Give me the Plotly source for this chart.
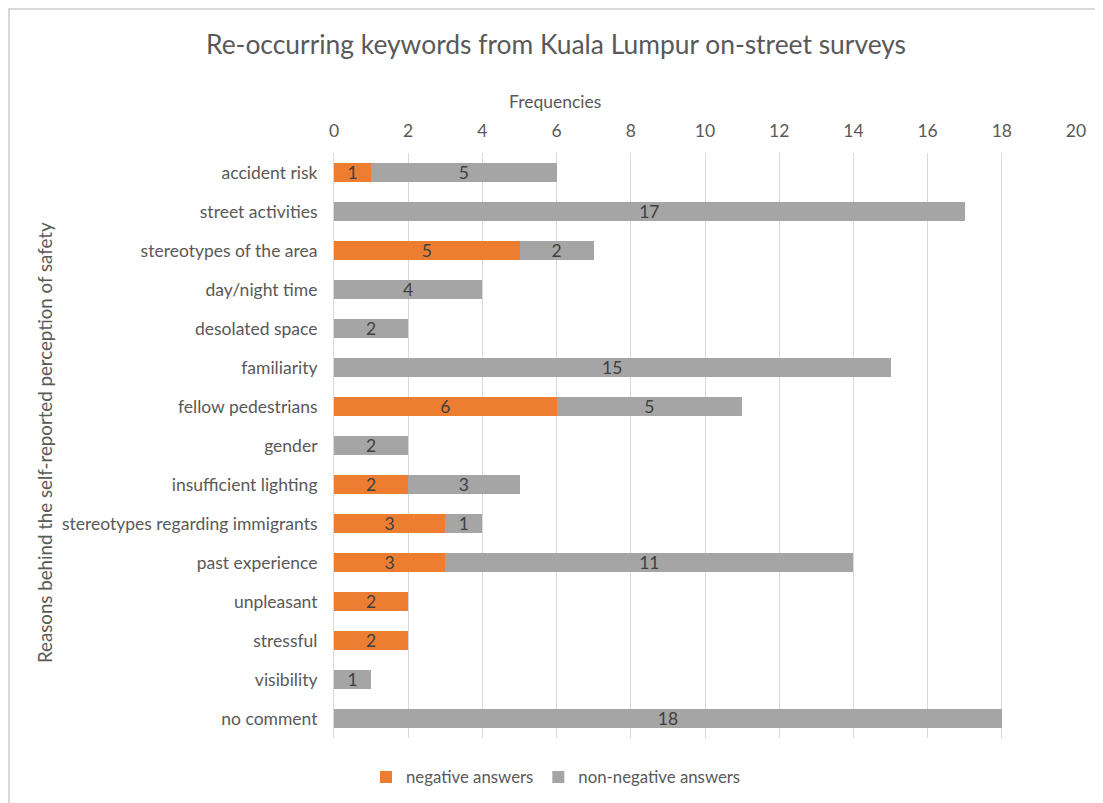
import plotly.graph_objects as go

categories = ["accident risk", "street activities", "stereotypes of the area", "day/night time",
              "desolated space", "familiarity", "fellow pedestrians", "gender",
              "insufficient lighting", "stereotypes regarding immigrants", "past experience",
              "unpleasant", "stressful", "visibility", "no comment"]
negative = [1, 0, 5, 0, 0, 0, 6, 0, 2, 3, 3, 2, 2, 0, 0]
non_negative = [5, 17, 2, 4, 2, 15, 5, 2, 3, 1, 11, 0, 0, 1, 18]

FONT = "Lato"
TXT = "#595959"
FS = 17.5

def vals(v):
    return [x if x > 0 else None for x in v]

def labels(v):
    return [str(x) if x > 0 else "" for x in v]

fig = go.Figure()
for name, data, color in [("negative answers", negative, "#ED7D31"),
                          ("non-negative answers", non_negative, "#A5A5A5")]:
    fig.add_trace(go.Bar(
        y=categories, x=vals(data), orientation="h", name=name,
        marker=dict(color=color, line=dict(width=0)),
        text=labels(data), textposition="inside", insidetextanchor="middle",
        textangle=0, constraintext="none",
        textfont=dict(color="#404040", size=FS, family=FONT), cliponaxis=False,
    ))

# page body has an 8px margin; figure coordinates = page coordinates - 8
OFF = 8
W, H = 1103 - OFF, 803 - OFF
L, T = 334 - OFF, 153 - OFF
R = W - (1076 - OFF)
B = H - (738 - OFF)
PW, PH = W - L - R, H - T - B

fig.update_layout(
    width=W, height=H,
    barmode="stack", bargap=0.53,
    paper_bgcolor="white", plot_bgcolor="white",
    font=dict(family=FONT, color=TXT, size=FS),
    margin=dict(l=L, r=R, t=T, b=B, autoexpand=False),
    title=dict(text="Re-occurring keywords from Kuala Lumpur on-street surveys",
               x=(556 - OFF) / W, xref="container", xanchor="center",
               y=1 - (45 - OFF) / H, yref="container", yanchor="middle",
               font=dict(size=26.4, color=TXT, family=FONT)),
    xaxis=dict(side="top", range=[0, 20], dtick=2, tick0=0, automargin=False,
               showgrid=True, gridcolor="#D9D9D9", gridwidth=1,
               zeroline=False, showline=False, ticks="",
               ticklabelstandoff=12,
               tickfont=dict(size=FS, color=TXT)),
    yaxis=dict(autorange="reversed", showgrid=False, zeroline=False, automargin=False,
               showline=True, linecolor="#D9D9D9", linewidth=1, ticks="",
               ticklabelstandoff=12,
               tickfont=dict(size=FS, color=TXT)),
    legend=dict(orientation="h", x=(556 - OFF) / W, xref="container", xanchor="center",
                y=(803 - 777) / H, yref="container", yanchor="middle",
                font=dict(size=16.8, color=TXT), traceorder="normal"),
    annotations=[
        dict(text="Frequencies", xref="paper", yref="paper",
             x=(555 - 334) / PW, y=1 + (153 - 101) / PH, showarrow=False,
             xanchor="center", yanchor="middle", font=dict(size=FS, color=TXT)),
        dict(text="Reasons behind the self-reported perception of safety",
             xref="paper", yref="paper", x=(45 - 334) / PW, y=(738 - 443) / PH,
             textangle=-90, showarrow=False, xanchor="center", yanchor="middle",
             font=dict(size=18.7, color=TXT)),
    ],
    shapes=[dict(type="rect", xref="paper", yref="paper",
                 x0=(1 - L) / PW, x1=(W + 10 - L) / PW,
                 y0=-(B + 10) / PH, y1=(PH + T - 1) / PH,
                 line=dict(color="#D9D9D9", width=2), fillcolor="rgba(0,0,0,0)",
                 layer="below")],
)

fig.write_html("out.html")
